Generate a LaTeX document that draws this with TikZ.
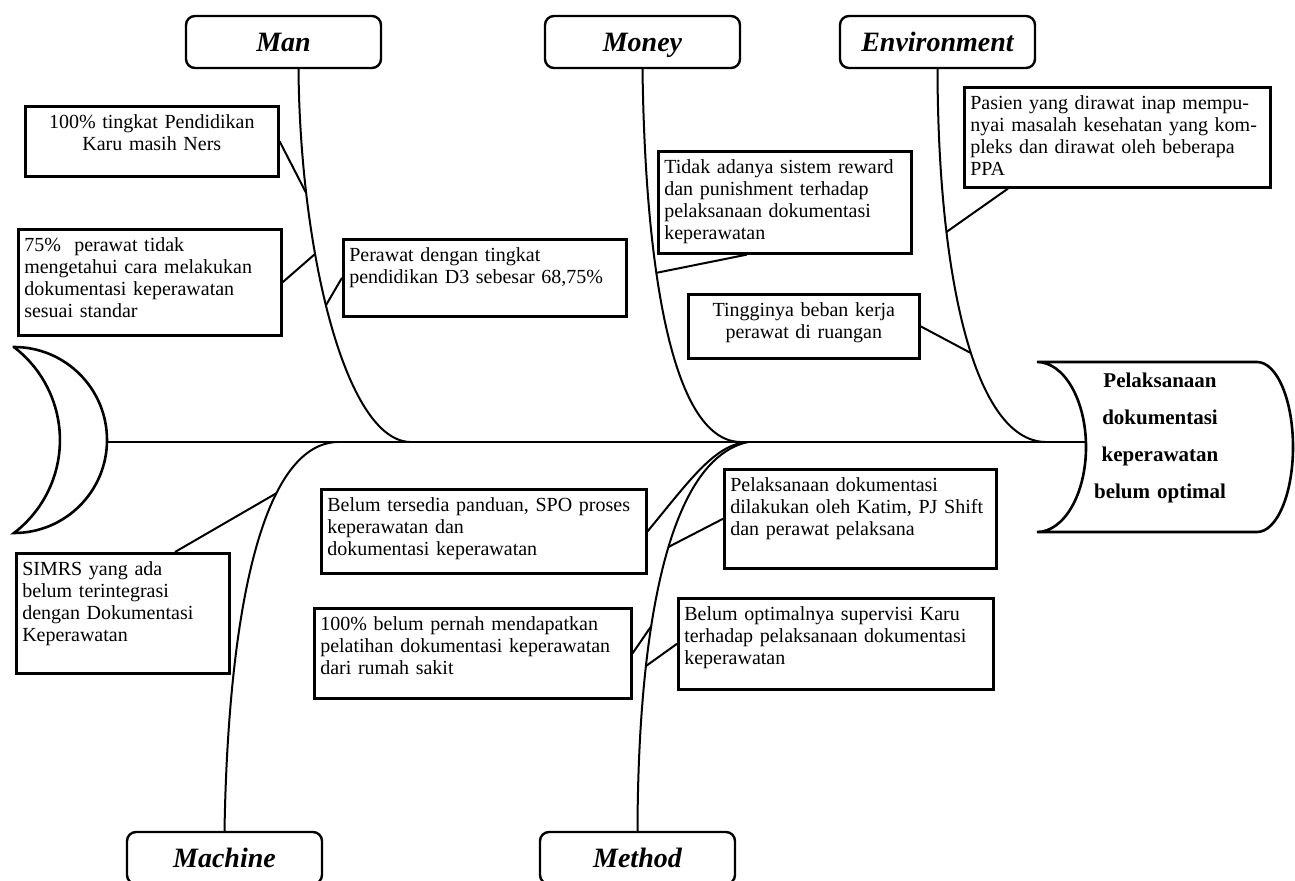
\documentclass[tikz,border=0pt]{standalone}
\usepackage{fontspec}
\setmainfont{Liberation Serif}

\begin{document}
\begin{tikzpicture}[x=0.5pt,y=-0.5pt,
    cat/.style={draw,line width=1.2pt,rounded corners=4.5pt,minimum width=97.5pt,minimum height=26pt,text height=11pt,text depth=1.5pt,font=\fontsize{14}{16}\selectfont\bfseries\itshape},
    cause/.style={draw,line width=1.3pt,anchor=north west,inner sep=3pt,align=left,text height=8pt,font=\fontsize{10}{11}\selectfont},
    bone/.style={line width=1pt},
    twig/.style={line width=1pt}]
  \useasboundingbox (0,0) rectangle (1295,881);
  \clip (0,0) rectangle (1295,881);
  % tail and head of the fish
  \draw[line width=1.3pt] (14,347) arc[start angle=90,end angle=-90,radius=46.5pt]
    arc[start angle=-52.6,end angle=52.6,radius=58.5pt] -- cycle;
  \draw[line width=1.3pt] (1037,362) -- (1257,362) arc[start angle=90,end angle=-90,x radius=18pt,y radius=42.5pt]
    -- (1037,532) arc[start angle=-90,end angle=90,x radius=24.5pt,y radius=42.5pt] -- cycle;
  \node[font=\fontsize{10.5}{18.5}\selectfont\bfseries,align=center,text width=80pt] (effect) at (1160,438)
    {Pelaksanaan\\dokumentasi\\keperawatan\\belum optimal};
  % spine
  \coordinate (tail) at (107,442);
  \coordinate (head) at (1085,442);
  \coordinate (jman) at (410,442);
  \coordinate (jmoney) at (740,442);
  \coordinate (jenv) at (1045,442);
  \coordinate (jmach) at (337,442);
  \coordinate (jmeth) at (748,442);
  \draw[line width=1.3pt] (tail) -- (head);
  % categories
  \node[cat] (man) at (283.5,42) {Man};
  \node[cat] (money) at (642.5,42) {Money};
  \node[cat] (env) at (937.5,42) {Environment};
  \node[cat] (machine) at (224.5,858) {Machine};
  \node[cat] (method) at (637.5,858) {Method};
  % causes
  \node[cause,align=center,text width=120.5pt,text depth=21pt] (karu) at (24,105) {100\% tingkat Pendidikan\\Karu masih Ners};
  \node[cause,text width=125.5pt,text depth=39pt] (standar) at (17,228) {75\% \ perawat tidak\\mengetahui cara melakukan\\dokumentasi keperawatan\\sesuai standar};
  \node[cause,text width=135.5pt,text depth=24.5pt] (d3) at (342,238) {Perawat dengan tingkat\\pendidikan D3 sebesar 68,75\%};
  \node[cause,text width=120.5pt,text depth=37pt] (reward) at (657,150) {Tidak adanya sistem reward\\dan punishment terhadap\\pelaksanaan dokumentasi\\keperawatan};
  \node[cause,align=center,text width=109.5pt,text depth=18pt] (beban) at (687,293) {Tingginya beban kerja\\perawat di ruangan};
  \node[cause,text width=147pt,text depth=36pt] (pasien) at (963,86) {Pasien yang dirawat inap mempu-\\nyai masalah kesehatan yang kom-\\pleks dan dirawat oleh beberapa\\PPA};
  \node[cause,text width=156.5pt,text depth=28pt] (panduan) at (320,488) {Belum tersedia panduan, SPO proses\\keperawatan dan\\dokumentasi keperawatan};
  \node[cause,text width=130pt,text depth=35.5pt] (katim) at (723,468) {Pelaksanaan dokumentasi\\dilakukan oleh Katim, PJ Shift\\dan perawat pelaksana};
  \node[cause,text width=152.5pt,text depth=31pt] (pelatihan) at (313,607) {100\% belum pernah mendapatkan\\pelatihan dokumentasi keperawatan\\dari rumah sakit};
  \node[cause,text width=151.5pt,text depth=31.5pt] (supervisi) at (677,597) {Belum optimalnya supervisi Karu\\terhadap pelaksanaan dokumentasi\\keperawatan};
  \node[cause,text width=100.5pt,text depth=46pt] (simrs) at (15,552) {SIMRS yang ada\\belum terintegrasi\\dengan Dokumentasi\\Keperawatan};
  % bones
  \draw[bone] ([xshift=7.5pt]man.south) .. controls (300,250) and (345,440) .. (jman)
    coordinate[pos=0.23] (man1) coordinate[pos=0.35] (man2) coordinate[pos=0.46] (man3);
  \draw[bone] (money.south) .. controls (645,260) and (670,440) .. (jmoney) coordinate[pos=0.38] (money1);
  \draw[bone] (env.south) .. controls (938,280) and (975,440) .. (jenv)
    coordinate[pos=0.28] (env1) coordinate[pos=0.55] (env2);
  \draw[bone] (machine.north) .. controls (228,620) and (260,445) .. (jmach) coordinate[pos=0.68] (mach1);
  \draw[bone] (method.north) .. controls (638,640) and (665,460) .. (jmeth)
    coordinate[pos=0.3] (meth1) coordinate[pos=0.38] (meth2) coordinate[pos=0.56] (meth3);
  % twigs
  \draw[twig] (karu.east) -- (man1);
  \draw[twig] (standar.east) -- (man2);
  \draw[twig] (d3.west) -- (man3);
  \draw[twig] ([xshift=45pt]reward.south west) -- (money1);
  \draw[twig] ([xshift=22.5pt]pasien.south west) -- (env1);
  \draw[twig] (beban.east) -- (env2);
  \draw[twig] ([xshift=80pt]simrs.north west) -- (mach1);
  \draw[twig] (panduan.east) .. controls (690,480) and (715,444) .. (jmeth);
  \draw[twig] (katim.west) -- (meth3);
  \draw[twig] (pelatihan.east) -- (meth2);
  \draw[twig] (supervisi.west) -- (meth1);
\end{tikzpicture}
\end{document}
